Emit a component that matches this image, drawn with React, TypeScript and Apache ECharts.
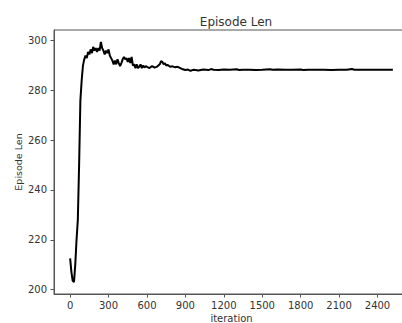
import React, { useEffect, useRef } from "react";
import * as echarts from "echarts";

const iterations = [
  0, 10, 20, 30, 40, 50, 60, 70, 80, 90, 100, 110, 120, 130, 140, 150, 160, 170, 180, 190,
  200, 210, 220, 230, 240, 250, 260, 270, 280, 290, 300, 310, 320, 330, 340, 350, 360, 370, 380, 390,
  400, 410, 420, 430, 440, 450, 460, 470, 480, 490, 500, 510, 520, 530, 540, 550, 560, 570, 580, 590,
  600, 620, 640, 660, 680, 700, 710, 720, 730, 740, 750, 760, 780, 800, 820, 840, 860, 880, 900, 920,
  940, 960, 980, 1000, 1040, 1080, 1100, 1120, 1160, 1200, 1250, 1300, 1320, 1350, 1400, 1450, 1500, 1560, 1580, 1620,
  1680, 1740, 1800, 1820, 1860, 1920, 1980, 2040, 2100, 2160, 2200, 2220, 2260, 2320, 2380, 2440, 2520,
];

const episodeLen = [
  212.5, 207, 203.5, 203, 210, 220, 228, 250, 276, 284, 290, 292.5, 294, 293, 295.5, 294.5, 296.5, 295, 297.5, 296,
  297, 295.5, 297, 296, 299.5, 297, 296, 294.5, 296, 295, 296.5, 294, 293, 292, 290.5, 292, 290.5, 292.5, 291, 289.8,
  291, 292.5, 293.5, 292.5, 293, 291.5, 293, 291, 293.5, 290, 290.5, 289, 290.5, 289, 289.5, 290.5, 289, 290, 289.2, 289.8,
  289.5, 289, 289.8, 289.2, 289.6, 290.5, 291.8, 291.5, 290.5, 291, 290, 290.3, 289.5, 289.7, 289.3, 289.5, 289, 288.5, 288.2, 288.4,
  287.9, 288.3, 288.2, 288.0, 288.4, 288.2, 288.6, 288.3, 288.2, 288.4, 288.3, 288.5, 288.2, 288.3, 288.3, 288.2, 288.3, 288.5, 288.3, 288.4,
  288.3, 288.3, 288.4, 288.2, 288.3, 288.3, 288.3, 288.2, 288.3, 288.3, 288.6, 288.3, 288.3, 288.3, 288.3, 288.3, 288.3,
];

const xTicks = [0, 300, 600, 900, 1200, 1500, 1800, 2100, 2400];
const yTicks = [200, 220, 240, 260, 280, 300];

const FONT = "DejaVu Sans";
const TEXT = "#333333";
const SPINE = "#555555";

export default function App() {
  const ref = useRef<HTMLDivElement>(null);
  useEffect(() => {
    if (!ref.current) return;
    const chart = echarts.init(ref.current, null, { renderer: "svg" });
    chart.setOption({
      animation: false,
      backgroundColor: "#ffffff",
      title: {
        text: "Episode Len",
        left: 231,
        top: 11,
        textAlign: "center",
        textStyle: { fontFamily: FONT, fontSize: 12, fontWeight: "normal", color: TEXT },
      },
      grid: {
        left: 54,
        top: 30,
        right: -7,
        bottom: 29,
        outerBoundsMode: "none",
        containLabel: false,
        show: true,
        borderColor: SPINE,
        borderWidth: 1,
        backgroundColor: "transparent",
      },
      xAxis: {
        type: "value",
        min: -126,
        max: 2646,
        name: "iteration",
        nameLocation: "middle",
        nameGap: 19,
        nameMoveOverlap: false,
        nameTextStyle: { fontFamily: FONT, fontSize: 10, color: TEXT },
        axisLine: { show: true, onZero: false, lineStyle: { color: SPINE, width: 1 } },
        axisTick: { show: true, inside: false, length: 3.5, lineStyle: { color: SPINE }, customValues: xTicks },
        axisLabel: {
          fontFamily: FONT, fontSize: 10, color: TEXT, margin: 6, customValues: xTicks,
          formatter: (v: number) => String(v),
        },
        splitLine: { show: false },
      },
      yAxis: {
        type: "value",
        min: 198.2,
        max: 304.3,
        name: "Episode Len",
        nameLocation: "middle",
        nameGap: 31,
        nameMoveOverlap: false,
        nameTextStyle: { fontFamily: FONT, fontSize: 9.5, color: TEXT },
        axisLine: { show: true, onZero: false, lineStyle: { color: SPINE, width: 1 } },
        axisTick: { show: true, inside: false, length: 3.5, lineStyle: { color: SPINE }, customValues: yTicks },
        axisLabel: {
          fontFamily: FONT, fontSize: 10, color: TEXT, margin: 7, customValues: yTicks,
          formatter: (v: number) => String(v),
        },
        splitLine: { show: false },
      },
      series: [
        {
          type: "line",
          data: iterations.map((x, i) => [x, episodeLen[i]]),
          showSymbol: false,
          lineStyle: { color: "#000000", width: 2 },
          silent: true,
        },
      ],
    });
    return () => chart.dispose();
  }, []);
  return <div ref={ref} style={{ width: 402, height: 323, position: "absolute", left: 0, top: 0 }} />;
}
